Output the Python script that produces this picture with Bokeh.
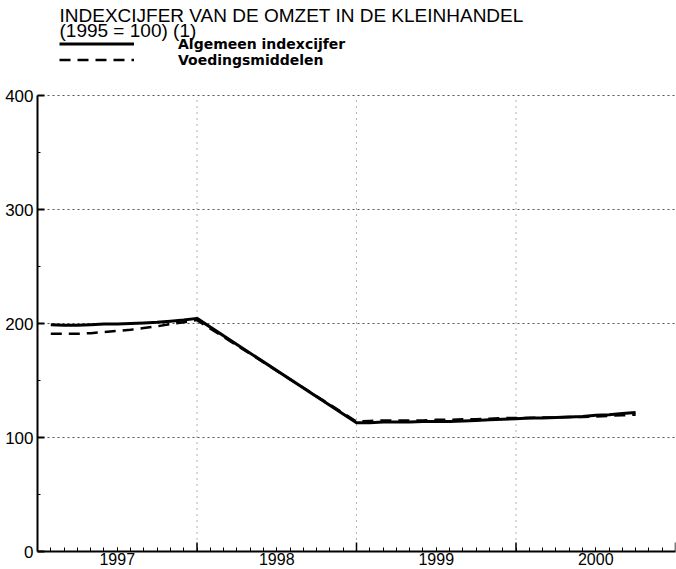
import math
from bokeh.plotting import figure
from bokeh.models import Range1d, FixedTicker, Label, Legend, LegendItem
from bokeh.embed import file_html
from bokeh.resources import INLINE

# ---- data (monthly index, 1995 = 100) ----
years = [1997, 1998, 1999, 2000]
# month number counted from Jan 1997 = 1 (1998 only December available)
months = [1, 2, 3, 4, 5, 6, 7, 8, 9, 10, 11, 12,
          24,
          25, 26, 27, 28, 29, 30, 31, 32, 33, 34, 35, 36,
          37, 38, 39, 40, 41, 42, 43, 44, 45]
algemeen = [199, 198.5, 198.5, 199, 199.5, 199.5, 200, 200.5, 201, 202, 203, 204.5,
            113,
            113, 113.5, 113.5, 113.5, 114, 114, 114, 114.5, 115, 115.5, 116, 116.5,
            117, 117, 117.5, 118, 118.5, 119.5, 120, 121, 122]
voeding = [191, 191, 191, 191.5, 192.5, 193.5, 194.5, 196, 197.5, 199.5, 201, 203,
           114,
           114.5, 115, 115, 115, 115, 115.5, 115.5, 116, 116, 116.5, 117, 117,
           117, 117.5, 117.5, 118, 118, 118.5, 119, 119.5, 120]
y_ticks = [0, 100, 200, 300, 400]
y_minor = [50, 150, 250, 350]

x = [years[0] + m / 12 for m in months]
boundaries = years[1:] + [years[-1] + 1]

W, H = 676, 569
BORDER_L, BORDER_R, BORDER_B = 37, 1, 18
FRAME_H = H - BORDER_B
PX_PER_UNIT = 456 / 400

p = figure(width=W, height=H, output_backend="svg", toolbar_location=None,
           x_range=Range1d(years[0], years[-1] + 1),
           y_range=Range1d(0, FRAME_H / PX_PER_UNIT),
           min_border_left=BORDER_L, min_border_right=BORDER_R,
           min_border_top=0, min_border_bottom=BORDER_B)
p.outline_line_color = None
p.background_fill_color = "white"
p.border_fill_color = "white"

# ---- axes ----
xa = p.xaxis[0]
xa.ticker = FixedTicker(ticks=[y + 0.5 for y in years],
                        minor_ticks=[years[0] + i / 12 for i in range(1, 12 * len(years))])
xa.major_label_overrides = {y + 0.5: str(y) for y in years}
xa.axis_line_width = 2
xa.axis_line_color = "black"
xa.major_tick_in = 4
xa.major_tick_out = 0
xa.minor_tick_in = 4
xa.minor_tick_out = 0
xa.major_tick_line_color = "black"
xa.minor_tick_line_color = "black"
xa.major_label_standoff = 1
xa.major_label_text_font = "Liberation Sans"
xa.major_label_text_font_size = "16px"
xa.major_label_text_color = "black"

ya = p.yaxis[0]
ya.ticker = FixedTicker(ticks=y_ticks, minor_ticks=y_minor)
ya.bounds = (y_ticks[0], y_ticks[-1])
ya.axis_line_width = 2
ya.axis_line_color = "black"
ya.major_tick_in = 7
ya.major_tick_out = 0
ya.major_tick_line_width = 2
ya.minor_tick_in = 3
ya.minor_tick_out = 0
ya.major_tick_line_color = "black"
ya.minor_tick_line_color = "black"
ya.major_label_standoff = 4
ya.major_label_text_font = "Liberation Sans"
ya.major_label_text_font_size = "17px"
ya.major_label_text_color = "black"

# ---- grids ----
p.xgrid.visible = False
yg = p.ygrid[0]
yg.ticker = FixedTicker(ticks=y_ticks[1:])
yg.grid_line_color = "#555555"
yg.grid_line_dash = "2 3"
yg.grid_line_width = 1

# dotted year separators from 0 to 400
p.segment(x0=years[1:], y0=[y_ticks[0]] * 3, x1=years[1:], y1=[y_ticks[-1]] * 3,
          line_color="#666666", line_dash="1 5", line_width=1)
# longer axis ticks at the year boundaries
p.scatter(boundaries, [y_ticks[0]] * len(boundaries), marker="dash", angle=math.pi / 2,
          size=18, line_color="black", line_width=1.5)

# ---- lines ----
r1 = p.line(x, algemeen, line_color="black", line_width=3)
r2 = p.line(x, voeding, line_color="black", line_width=2.5, line_dash="11 7")

# ---- title ----
title_font = "Liberation Sans"
p.add_layout(Label(x=22, y=FRAME_H - 15, x_units="screen", y_units="screen",
                   text="INDEXCIJFER VAN DE OMZET IN DE KLEINHANDEL",
                   text_font=title_font, text_font_size="19px", text_color="black",
                   text_baseline="alphabetic"))
p.add_layout(Label(x=22, y=FRAME_H - 30, x_units="screen", y_units="screen",
                   text="(1995 = 100) (1)",
                   text_font=title_font, text_font_size="19px", text_color="black",
                   text_baseline="alphabetic"))

legend = Legend(items=[LegendItem(label="Algemeen indexcijfer", renderers=[r1]),
                       LegendItem(label="Voedingsmiddelen", renderers=[r2])],
                location=(22, FRAME_H - 67.5),
                orientation="vertical",
                glyph_width=75, glyph_height=15, label_height=15,
                label_standoff=44, spacing=0, padding=0, margin=0,
                label_text_font="DejaVu Sans", label_text_font_style="bold",
                label_text_font_size="14px", label_text_color="black",
                border_line_alpha=0, background_fill_alpha=0)
p.add_layout(legend)

open("out.html", "w").write(file_html(p, INLINE))
